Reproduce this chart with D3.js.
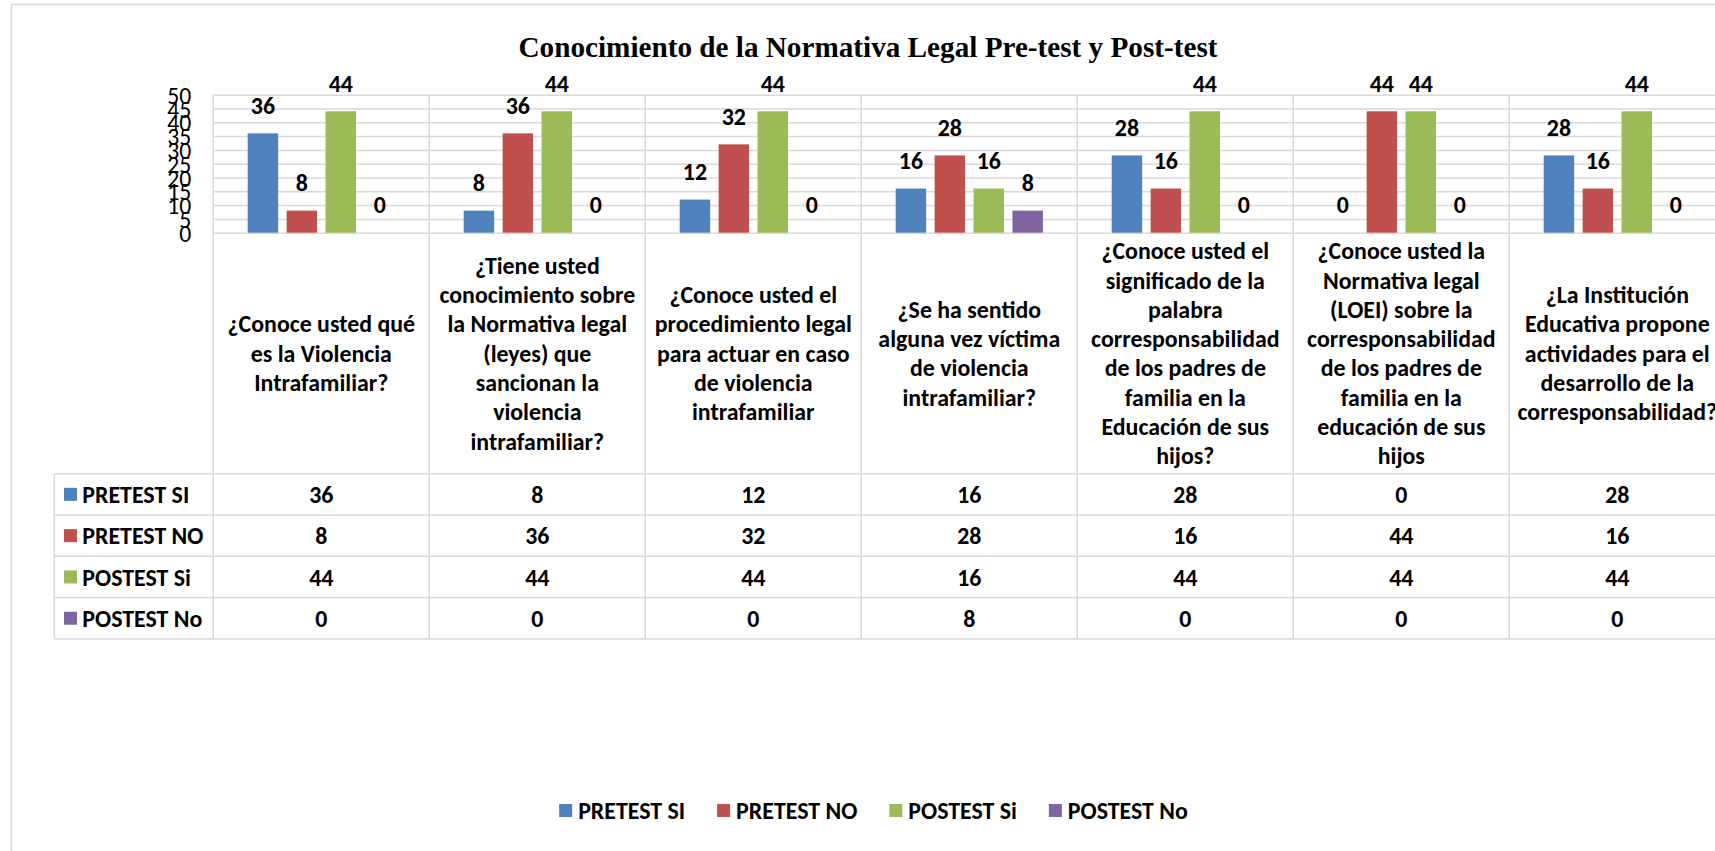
<!DOCTYPE html>
<html><head><meta charset="utf-8">
<script src="https://cdn.jsdelivr.net/npm/d3@7"></script>
<style>html,body{margin:0;padding:0;background:#fff;overflow:hidden}</style>
</head><body>
<svg id="chart" width="1715" height="851"></svg>
<script>
// ---------- data ----------
const chartTitle = "Conocimiento de la Normativa Legal Pre-test y Post-test";
const categories = [
  "¿Conoce usted qué\nes la Violencia\nIntrafamiliar?",
  "¿Tiene usted\nconocimiento sobre\nla Normativa legal\n(leyes) que\nsancionan la\nviolencia\nintrafamiliar?",
  "¿Conoce usted el\nprocedimiento legal\npara actuar en caso\nde violencia\nintrafamiliar",
  "¿Se ha sentido\nalguna vez víctima\nde violencia\nintrafamiliar?",
  "¿Conoce usted el\nsignificado de la\npalabra\ncorresponsabilidad\nde los padres de\nfamilia en la\nEducación de sus\nhijos?",
  "¿Conoce usted la\nNormativa legal\n(LOEI) sobre la\ncorresponsabilidad\nde los padres de\nfamilia en la\neducación de sus\nhijos",
  "¿La Institución\nEducativa propone\nactividades para el\ndesarrollo de la\ncorresponsabilidad?"
];
const seriesNames = ["PRETEST SI", "PRETEST NO", "POSTEST Si", "POSTEST No"];
const pretestSi = [36, 8, 12, 16, 28, 0, 28];
const pretestNo = [8, 36, 32, 28, 16, 44, 16];
const postestSi = [44, 44, 44, 16, 44, 44, 44];
const postestNo = [0, 0, 0, 8, 0, 0, 0];
const seriesColors = ["#4f81bd", "#c0504d", "#9bbb59", "#8064a2"];
const yTicks = [0, 5, 10, 15, 20, 25, 30, 35, 40, 45, 50];

const seriesValues = [pretestSi, pretestNo, postestSi, postestNo];

// ---------- layout ----------
const svg = d3.select("#chart");
const SANS = "Carlito, Lato, 'Open Sans', sans-serif";
const SERIF = "'Liberation Serif', 'Times New Roman', serif";
const GRID = "#d9d9d9";

function fitSize(family, weight, sample, targetW, base) {
  const t = svg.append("text").attr("font-family", family).attr("font-weight", weight)
    .attr("font-size", base).text(sample);
  const w = t.node().getComputedTextLength();
  t.remove();
  return w > 0 ? base * targetW / w : base;
}
const boldSize = fitSize(SANS, 700, "PRETEST SI", 107, 24);
const regSize = fitSize(SANS, 400, "50", 24, 24);

const plotLeft = 213.3, catW = 216, plotTop = 94.7, plotBottom = 232.7;
const tableTop = 473.7, rowH = 41.3, tableLeft = 54.3;
const tableBottom = tableTop + rowH * seriesNames.length;
const plotRight = plotLeft + catW * categories.length;

const x0 = d3.scaleBand().domain(d3.range(categories.length)).range([plotLeft, plotRight]);
const x1 = d3.scaleBand().domain(seriesNames).range([34.4, catW - 34.4]).paddingInner(0.218);
const y = d3.scaleLinear().domain([0, 50]).range([plotBottom, plotTop]);

// outer chart border
svg.append("rect").attr("x", 11.5).attr("y", 4.4).attr("width", 1800).attr("height", 900)
  .attr("fill", "none").attr("stroke", GRID).attr("stroke-width", 1.5);

// title
svg.append("text").attr("x", 868).attr("y", 56.7).attr("text-anchor", "middle")
  .attr("font-family", SERIF).attr("font-weight", 700).attr("font-size", 29.2)
  .attr("fill", "#000").text(chartTitle);

// horizontal gridlines
const gridAxis = d3.axisLeft(y).tickValues(yTicks).tickSizeInner(-(plotRight - plotLeft)).tickSizeOuter(0).tickFormat("");
const gg = svg.append("g").attr("transform", `translate(${plotLeft},0)`).call(gridAxis);
gg.select(".domain").remove();
gg.selectAll("line").attr("stroke", GRID).attr("stroke-width", 1.5);

// y tick labels
const yAxis = d3.axisLeft(y).tickValues(yTicks).tickSize(0).tickPadding(22);
const ya = svg.append("g").attr("transform", `translate(${plotLeft},0)`).call(yAxis);
ya.select(".domain").remove();
ya.selectAll("text").attr("font-family", SANS).attr("font-weight", 400)
  .attr("font-size", regSize).attr("fill", "#000").attr("dy", "0.36em");

// vertical dividers (plot + label area + table)
const vlines = d3.range(categories.length + 1).map(i => plotLeft + i * catW);
svg.append("g").selectAll("line").data(vlines).join("line")
  .attr("x1", d => d).attr("x2", d => d).attr("y1", plotTop).attr("y2", tableBottom)
  .attr("stroke", GRID).attr("stroke-width", 1.5);

// table horizontal lines
svg.append("g").selectAll("line").data(d3.range(seriesNames.length + 1)).join("line")
  .attr("x1", tableLeft).attr("x2", plotRight)
  .attr("y1", i => tableTop + i * rowH).attr("y2", i => tableTop + i * rowH)
  .attr("stroke", GRID).attr("stroke-width", 1.5);
svg.append("line").attr("x1", tableLeft).attr("x2", tableLeft).attr("y1", tableTop).attr("y2", tableBottom)
  .attr("stroke", GRID).attr("stroke-width", 1.5);

// bars
const barData = [];
categories.forEach((c, i) => seriesNames.forEach((s, j) => barData.push({ i, s, j, v: seriesValues[j][i] })));
svg.append("g").selectAll("rect").data(barData).join("rect")
  .attr("x", d => x0(d.i) + x1(d.s)).attr("width", x1.bandwidth())
  .attr("y", d => y(d.v)).attr("height", d => y(0) - y(d.v))
  .attr("fill", d => seriesColors[d.j]);

// value labels
svg.append("g").selectAll("text").data(barData).join("text")
  .attr("x", d => x0(d.i) + x1(d.s) + x1.bandwidth() / 2)
  .attr("y", d => y(d.v) - 28).attr("dy", "0.36em").attr("text-anchor", "middle")
  .attr("font-family", SANS).attr("font-weight", 700).attr("font-size", boldSize)
  .attr("fill", "#000").text(d => d.v);

// category labels
const labelMid = (plotBottom + tableTop) / 2;
const lineH = 29.3;
const catG = svg.append("g");
categories.forEach((c, i) => {
  const lines = c.split("\n");
  const cx = x0(i) + catW / 2;
  const t = catG.append("text").attr("text-anchor", "middle")
    .attr("font-family", SANS).attr("font-weight", 700).attr("font-size", boldSize).attr("fill", "#000");
  lines.forEach((ln, k) => {
    t.append("tspan").attr("x", cx)
      .attr("y", labelMid + (k - (lines.length - 1) / 2) * lineH)
      .attr("dy", "0.36em").text(ln);
  });
});

// table rows
seriesNames.forEach((s, j) => {
  const cy = tableTop + rowH * (j + 0.5);
  svg.append("rect").attr("x", 64).attr("y", cy - 6.5).attr("width", 13).attr("height", 13)
    .attr("fill", seriesColors[j]);
  svg.append("text").attr("x", 82.3).attr("y", cy).attr("dy", "0.36em")
    .attr("font-family", SANS).attr("font-weight", 700).attr("font-size", boldSize)
    .attr("fill", "#000").text(s);
  svg.append("g").selectAll("text").data(seriesValues[j]).join("text")
    .attr("x", (d, i) => x0(i) + catW / 2).attr("y", cy).attr("dy", "0.36em")
    .attr("text-anchor", "middle")
    .attr("font-family", SANS).attr("font-weight", 700).attr("font-size", boldSize)
    .attr("fill", "#000").text(d => d);
});

// bottom legend
const legY = 810.5;
const lg = svg.append("g");
let lx = 0;
seriesNames.forEach((s, j) => {
  const g = lg.append("g").attr("transform", `translate(${lx},0)`);
  g.append("rect").attr("x", 0).attr("y", legY - 6.5).attr("width", 13).attr("height", 13).attr("fill", seriesColors[j]);
  const t = g.append("text").attr("x", 19).attr("y", legY).attr("dy", "0.36em")
    .attr("font-family", SANS).attr("font-weight", 700).attr("font-size", boldSize)
    .attr("fill", "#000").text(s);
  lx += 19 + t.node().getComputedTextLength() + 32;
});
const legW = lx - 32;
lg.attr("transform", `translate(${873.5 - legW / 2},0)`);
</script>
</body></html>
